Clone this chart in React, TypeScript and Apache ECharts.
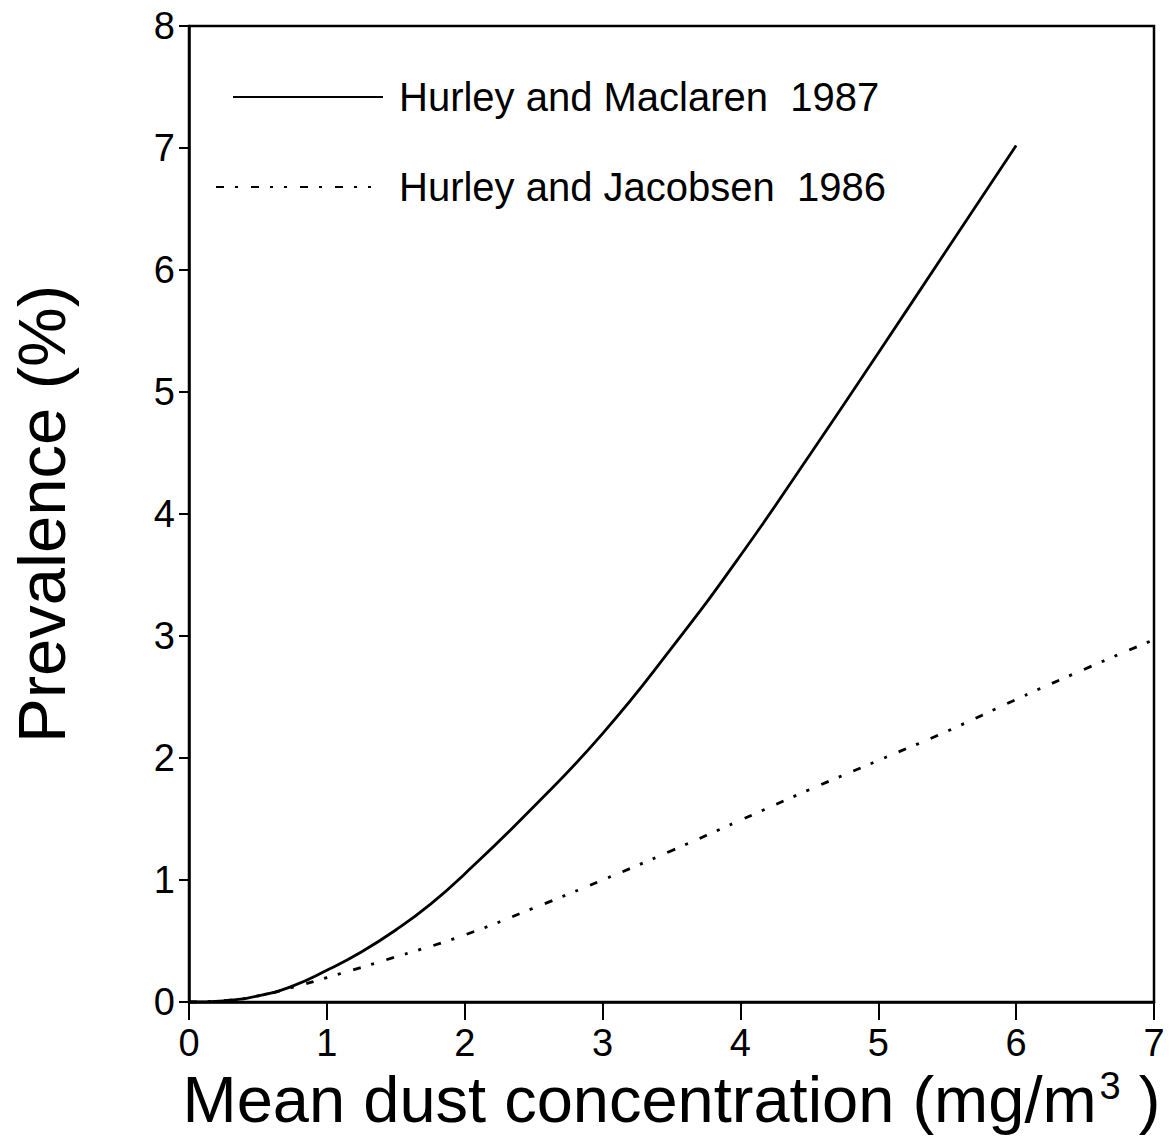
import React, { useEffect, useRef } from "react";
import * as echarts from "echarts";

const xTicks = [0, 1, 2, 3, 4, 5, 6, 7];
const yTicks = [0, 1, 2, 3, 4, 5, 6, 7, 8];

const maclarenX = [0, 0.25, 0.5, 0.75, 1, 1.25, 1.5, 1.75, 2, 2.5, 3, 3.5, 4, 4.5, 5, 5.5, 6];
const maclarenY = [0, 0.01, 0.05, 0.13, 0.26, 0.41, 0.59, 0.8, 1.05, 1.6, 2.2, 2.9, 3.66, 4.48, 5.32, 6.17, 7.02];

const jacobsenX = [0, 0.25, 0.5, 0.75, 1, 1.5, 2, 2.5, 3, 3.5, 4, 4.5, 5, 5.5, 6, 6.5, 7];
const jacobsenY = [0, 0.01, 0.05, 0.12, 0.2, 0.37, 0.55, 0.77, 1.0, 1.24, 1.49, 1.74, 1.98, 2.22, 2.48, 2.73, 2.97];

const nameMaclaren = "Hurley and Maclaren  1987";
const nameJacobsen = "Hurley and Jacobsen  1986";

const FONT = "'Liberation Sans', Arial, Helvetica, sans-serif";

export default function App() {
  const ref = useRef<HTMLDivElement>(null);
  useEffect(() => {
    if (!ref.current) return;
    const chart = echarts.init(ref.current, undefined, { renderer: "svg" });
    const hiddenSymbol = { color: "rgba(0,0,0,0)", borderWidth: 0, opacity: 0 };
    const option = {
      animation: false,
      backgroundColor: "#fff",
      textStyle: { fontFamily: FONT, color: "#000" },
      grid: {
        left: 179,
        right: 16,
        top: 26,
        bottom: 137,
        show: true,
        borderColor: "#000",
        borderWidth: 2.5,
        containLabel: false,
      },
      legend: [
        {
          data: [nameMaclaren],
          left: 227,
          top: 72,
          orient: "vertical",
          itemWidth: 150,
          itemHeight: 20,
          itemStyle: hiddenSymbol,
          textStyle: { fontFamily: FONT, fontSize: 40, color: "#000", padding: [0, 0, 0, 11] },
        },
        {
          data: [nameJacobsen],
          left: 210,
          top: 162,
          orient: "vertical",
          itemWidth: 167,
          itemHeight: 20,
          itemStyle: hiddenSymbol,
          textStyle: { fontFamily: FONT, fontSize: 40, color: "#000", padding: [0, 0, 0, 11] },
        },
      ],
      xAxis: {
        type: "value",
        min: xTicks[0],
        max: xTicks[xTicks.length - 1],
        interval: 1,
        splitLine: { show: false },
        axisLine: { show: true, onZero: false, lineStyle: { color: "#000", width: 2.5 } },
        axisTick: { show: true, length: 18, lineStyle: { color: "#000", width: 2 } },
        axisLabel: { fontFamily: FONT, fontSize: 38, color: "#000", margin: 22 },
        name: "Mean dust concentration (mg/m{sup|3} )",
        nameLocation: "middle",
        nameGap: 55,
        nameTextStyle: {
          fontFamily: FONT,
          fontSize: 65,
          color: "#000",
          verticalAlign: "top",
          rich: {
            sup: { fontFamily: FONT, fontSize: 38, color: "#000", verticalAlign: "top", padding: [0, 0, 20, 3] },
          },
        },
      },
      yAxis: {
        type: "value",
        min: yTicks[0],
        max: yTicks[yTicks.length - 1],
        interval: 1,
        splitLine: { show: false },
        axisLine: { show: true, onZero: false, lineStyle: { color: "#000", width: 2.5 } },
        axisTick: { show: true, length: 10, lineStyle: { color: "#000", width: 2 } },
        axisLabel: { fontFamily: FONT, fontSize: 38, color: "#000", margin: 14 },
        name: "Prevalence (%)",
        nameLocation: "middle",
        nameGap: 114,
        nameRotate: 90,
        nameTextStyle: { fontFamily: FONT, fontSize: 67, color: "#000" },
      },
      series: [
        {
          name: nameMaclaren,
          type: "line",
          data: maclarenX.map((x, i) => [x, maclarenY[i]]),
          smooth: 0.5,
          showSymbol: false,
          symbol: "none",
          lineStyle: { color: "#000", width: 2.8, type: "solid" },
          itemStyle: { color: "#000" },
        },
        {
          name: nameJacobsen,
          type: "line",
          data: jacobsenX.map((x, i) => [x, jacobsenY[i]]),
          smooth: 0.5,
          showSymbol: false,
          symbol: "none",
          lineStyle: { color: "#000", width: 2.8, type: [8, 11, 3, 13, 8, 11, 3, 11, 3, 13] },
          itemStyle: { color: "#000" },
        },
      ],
    };
    chart.setOption(option);
    return () => chart.dispose();
  }, []);
  return (
    <div
      ref={ref}
      style={{ position: "absolute", left: 0, top: 0, width: 1170, height: 1139 }}
    />
  );
}
